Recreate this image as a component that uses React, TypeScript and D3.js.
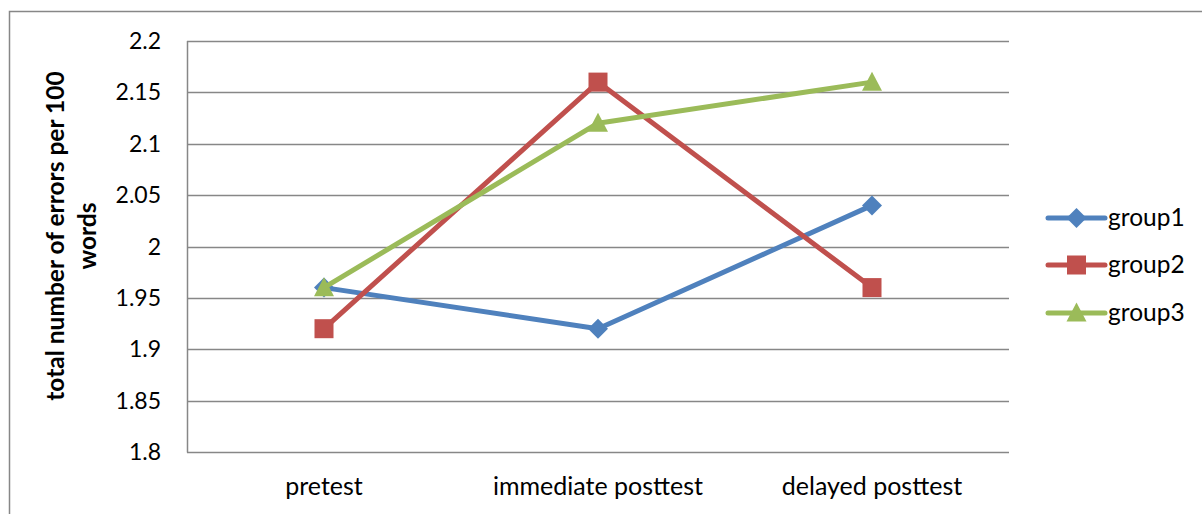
import React from "react";
import * as d3 from "d3";

const categories = ["pretest", "immediate posttest", "delayed posttest"];
const seriesNames = ["group1", "group2", "group3"];
const group1 = [1.96, 1.92, 2.04];
const group2 = [1.92, 2.16, 1.96];
const group3 = [1.96, 2.12, 2.16];
const yTicks = [1.8, 1.85, 1.9, 1.95, 2, 2.05, 2.1, 2.15, 2.2];
const colors = ["#4F81BD", "#C0504D", "#9BBB59"];
const markers = ["diamond", "square", "triangle"];

const W = 1202;
const H = 514;
const plot = { left: 187, right: 1009, top: 41, bottom: 452 };
const FONT = "Lato, 'Open Sans', sans-serif";
const GRID = "#878787";

function Marker({ kind, x, y, color }: { kind: string; x: number; y: number; color: string }) {
  if (kind === "diamond") {
    const r = 10;
    return <path d={`M${x},${y - r}L${x + r},${y}L${x},${y + r}L${x - r},${y}Z`} fill={color} />;
  }
  if (kind === "square") {
    const s = 19;
    return <rect x={x - s / 2} y={y - s / 2} width={s} height={s} fill={color} />;
  }
  const w = 20;
  const h = 19;
  return <path d={`M${x},${y - h * 0.55}L${x + w / 2},${y + h * 0.45}L${x - w / 2},${y + h * 0.45}Z`} fill={color} />;
}

export default function App() {
  const x = d3.scaleBand<string>().domain(categories).range([plot.left, plot.right]);
  const y = d3.scaleLinear().domain([1.8, 2.2]).range([plot.bottom, plot.top]);
  const cx = (c: string) => (x(c) as number) + x.bandwidth() / 2;
  const data = [group1, group2, group3];
  const line = d3
    .line<number>()
    .x((_, i) => cx(categories[i]))
    .y((v) => y(v));

  const legendX = 1048;
  const legendYs = [218, 265, 313];

  return (
    <svg
      width={W}
      height={H}
      style={{ position: "absolute", left: 0, top: 0, background: "#fff" }}
      fontFamily={FONT}
    >
      <rect x={9.5} y={11.5} width={1300} height={600} fill="none" stroke={GRID} strokeWidth={1.5} />
      {yTicks.map((t) => (
        <g key={t}>
          <line x1={plot.left} x2={plot.right} y1={Math.round(y(t)) + 0.5} y2={Math.round(y(t)) + 0.5} stroke={GRID} strokeWidth={1.5} />
          <text x={161} y={y(t)} dy="0.35em" textAnchor="end" fontSize={23} fill="#000">
            {d3.format("")(t)}
          </text>
        </g>
      ))}
      <line x1={plot.left + 0.5} x2={plot.left + 0.5} y1={plot.top} y2={plot.bottom + 0.5} stroke={GRID} strokeWidth={1.5} />
      {categories.map((c) => (
        <text key={c} x={cx(c)} y={495} textAnchor="middle" fontSize={25} fill="#000">
          {c}
        </text>
      ))}
      <g transform={`translate(74,236) rotate(-90)`}>
        <text x={0} y={-10} textAnchor="middle" fontSize={24.5} fontWeight="bold" fill="#000">
          total number of errors per 100
        </text>
        <text x={0} y={22} textAnchor="middle" fontSize={24.5} fontWeight="bold" fill="#000">
          words
        </text>
      </g>
      {data.map((vals, si) => (
        <g key={seriesNames[si]}>
          <path d={line(vals) || ""} fill="none" stroke={colors[si]} strokeWidth={5} strokeLinejoin="round" strokeLinecap="round" />
          {vals.map((v, i) => (
            <Marker key={i} kind={markers[si]} x={cx(categories[i])} y={y(v)} color={colors[si]} />
          ))}
        </g>
      ))}
      {seriesNames.map((n, si) => (
        <g key={n}>
          <line x1={legendX} x2={legendX + 57} y1={legendYs[si]} y2={legendYs[si]} stroke={colors[si]} strokeWidth={5} strokeLinecap="round" />
          <Marker kind={markers[si]} x={legendX + 28.5} y={legendYs[si]} color={colors[si]} />
          <text x={legendX + 60} y={legendYs[si]} dy="0.32em" fontSize={24.5} fill="#000">
            {n}
          </text>
        </g>
      ))}
    </svg>
  );
}
